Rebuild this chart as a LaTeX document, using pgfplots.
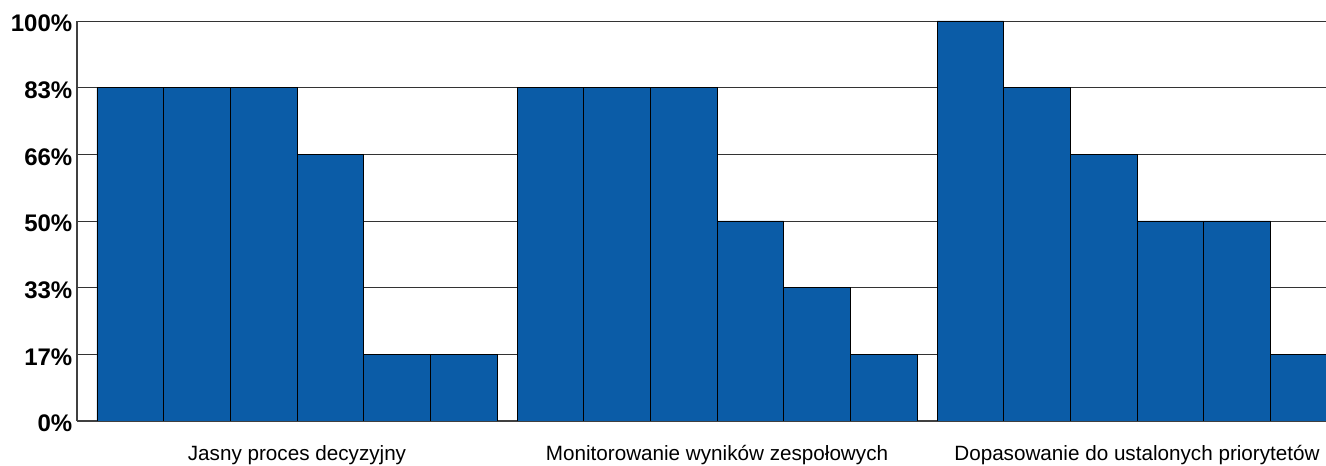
\documentclass[border=0pt]{standalone}
\usepackage{pgfplots}
\pgfplotsset{compat=1.18}
\usepackage{fontspec}
\setmainfont{Liberation Sans}
\definecolor{barblue}{RGB}{11,92,167}
\begin{document}
\begin{tikzpicture}
\begin{axis}[
  scale only axis,
  width=936.75pt, height=300pt,
  xmin=77, xmax=1326, ymin=0, ymax=6,
  axis x line=bottom, axis y line=left,
  axis line style={draw=black!75, line width=0.8pt, -},
  ytick={0,1,2,3,4,5,6},
  yticklabels={0\%,17\%,33\%,50\%,66\%,83\%,100\%},
  yticklabel style={font=\fontsize{18}{20}\selectfont\bfseries, yshift=-2pt},
  xtick={297,717,1137},
  xticklabels={Jasny proces decyzyjny, Monitorowanie wyników zespołowych, Dopasowanie do ustalonych priorytetów},
  xticklabel style={font=\fontsize{15.5}{17}\selectfont, yshift=-15pt},
  major tick length=0pt,
  ymajorgrids,
  grid style={draw=black!80, line width=0.7pt},
  clip=true,
]
\addplot[ybar, bar width=66.667, fill=barblue, draw=black, line width=0.6pt] coordinates {
  (130.333,5) (197,5) (263.667,5) (330.333,4) (397,1) (463.667,1)
  (550.333,5) (617,5) (683.667,5) (750.333,3) (817,2) (883.667,1)
  (970.333,6) (1037,5) (1103.667,4) (1170.333,3) (1237,3) (1303.667,1)
};
\end{axis}
\pgfresetboundingbox
\path[use as bounding box] ([xshift=-57.75pt,yshift=-33.75pt]current axis.south west) rectangle ([yshift=15.75pt]current axis.north east);
\end{tikzpicture}
\end{document}
